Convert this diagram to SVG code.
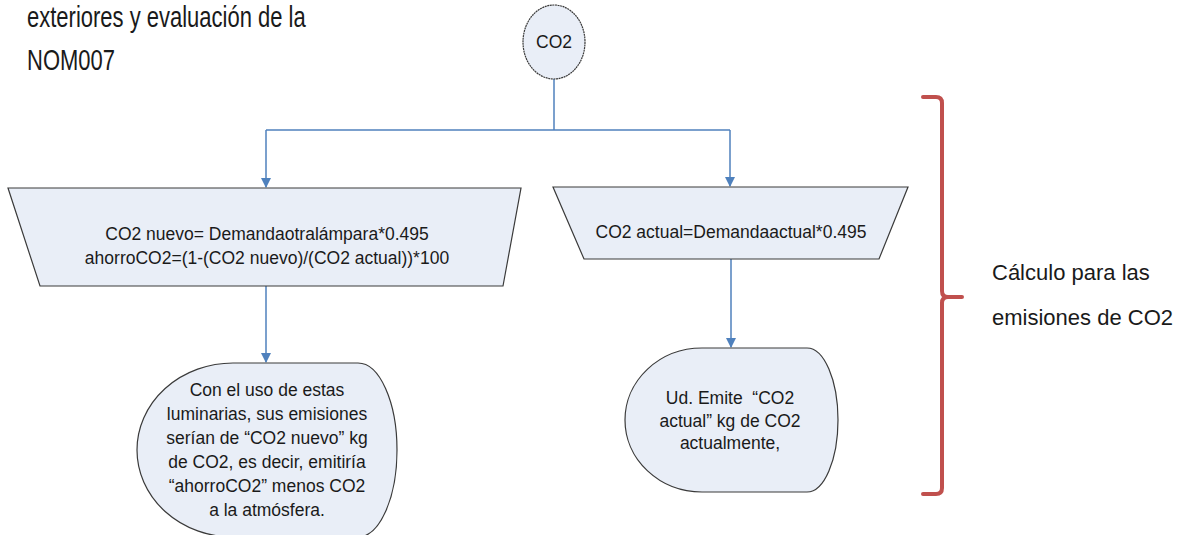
<svg xmlns="http://www.w3.org/2000/svg" width="1189" height="535" viewBox="0 0 1189 535">
<style>
.shape{fill:#E9EEF7;stroke:#3a3a3a;stroke-width:1.2}
.t{font-family:"Liberation Sans",Arial,sans-serif;font-size:17.5px;fill:#1a1a1a;text-anchor:middle}
.big{font-family:"Liberation Sans",Arial,sans-serif;font-size:22px;fill:#1a1a1a}
.conn{fill:none;stroke:#4F81BD;stroke-width:1.5}
</style>
<defs>
<marker id="arr" markerWidth="10" markerHeight="10" refX="9" refY="5" orient="auto" markerUnits="userSpaceOnUse">
<path d="M0,0 L10,5 L0,10 Z" fill="#4F81BD"/>
</marker>
</defs>
<rect width="1189" height="535" fill="#ffffff"/>
<g id="header">
<text class="big" transform="translate(27,27) scale(1,1.3)">exteriores y evaluación de la</text>
<text class="big" transform="translate(27,70) scale(1,1.3)">NOM007</text>
</g>
<g id="connectors">
<path class="conn" d="M554,79 L554,130"/>
<path class="conn" d="M266,130 L730,130"/>
<path class="conn" d="M266,130 L266,187" marker-end="url(#arr)"/>
<path class="conn" d="M730,130 L730,186" marker-end="url(#arr)"/>
<path class="conn" d="M266,286 L266,362" marker-end="url(#arr)"/>
<path class="conn" d="M731,259 L731,347" marker-end="url(#arr)"/>
</g>
<g id="start">
<ellipse class="shape" cx="554" cy="42" rx="31" ry="37" stroke-dasharray="2 0.6"/>
<text class="t" x="554" y="48">CO2</text>
</g>
<g id="calc-nuevo">
<path class="shape" d="M8,188 L521,188 L503,286 L40,286 Z"/>
<text class="t" x="267" y="240">CO2 nuevo= Demandaotralámpara*0.495</text>
<text class="t" x="267" y="264">ahorroCO2=(1-(CO2 nuevo)/(CO2 actual))*100</text>
</g>
<g id="calc-actual">
<path class="shape" d="M553,187 L908,187 L879,259 L584,259 Z"/>
<text class="t" x="731" y="238">CO2 actual=Demandaactual*0.495</text>
</g>
<g id="display-nuevo">
<path class="shape" d="M233,363 L358,363 A39 87 0 0 1 358,537 L233,537 A96 87 0 0 1 233,363 Z"/>
<text class="t" x="267" y="396">Con el uso de estas</text>
<text class="t" x="267" y="420">luminarias, sus emisiones</text>
<text class="t" x="267" y="444">serían de “CO2 nuevo” kg</text>
<text class="t" x="267" y="468">de CO2, es decir, emitiría</text>
<text class="t" x="267" y="492">“ahorroCO2” menos CO2</text>
<text class="t" x="267" y="516">a la atmósfera.</text>
</g>
<g id="display-actual">
<path class="shape" d="M702,348 L807,348 A31 72 0 0 1 807,492 L702,492 A77 72 0 0 1 702,348 Z"/>
<text class="t" x="730" y="404" xml:space="preserve">Ud. Emite  “CO2</text>
<text class="t" x="730" y="427">actual” kg de CO2</text>
<text class="t" x="730" y="449">actualmente,</text>
</g>
<g id="bracket">
<path d="M923,97 L936,97 Q942,97 942,103 L942,291 Q942,297 948,297 L962,297 M948,297 Q942,297 942,303 L942,488 Q942,494 936,494 L923,494" fill="none" stroke="#C0504D" stroke-width="4" stroke-linecap="round"/>
<text class="big" x="992" y="280">Cálculo para las</text>
<text class="big" x="992" y="325">emisiones de CO2</text>
</g>
</svg>
